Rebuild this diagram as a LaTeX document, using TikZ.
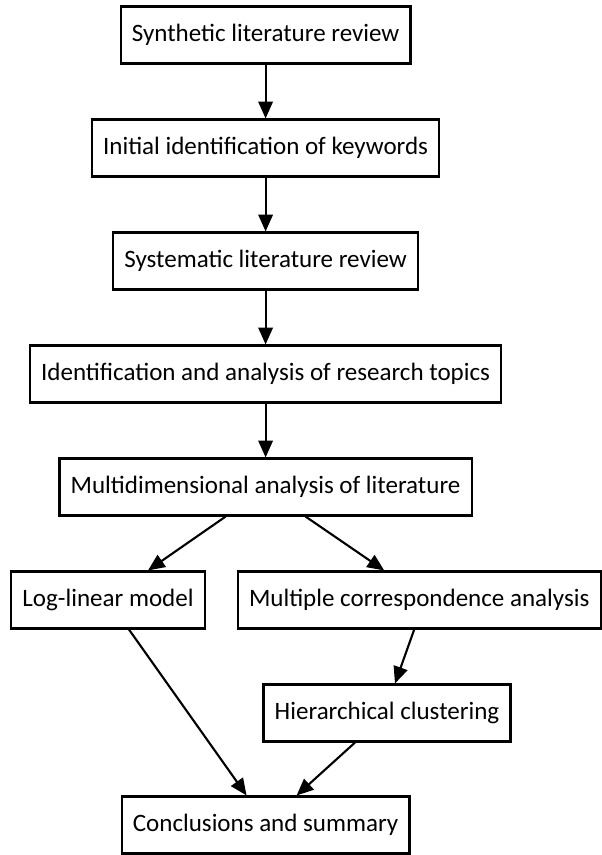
\documentclass[tikz,border=0pt]{standalone}
\usepackage{fontspec}
\setmainfont{Carlito}
\usetikzlibrary{positioning, arrows.meta}

\begin{document}
\begin{tikzpicture}[>={Triangle[length=0.42cm, width=0.36cm]}, line width=1.5pt,
          paso/.style={draw, rectangle, minimum height=1.425cm, inner xsep=0.28cm,
                       font=\fontsize{17.8pt}{21pt}\selectfont}
        ]
        \useasboundingbox (0,0) rectangle (15.05,-21.375);

        \node[paso] (sintesis) at (6.64,-0.875)  {Synthetic literature review};
        \node[paso] (claves)   at (6.64,-3.7)    {Initial identification of keywords};
        \node[paso] (sistema)  at (6.64,-6.525)  {Systematic literature review};
        \node[paso] (temas)    at (6.64,-9.35)   {Identification and analysis of research topics};
        \node[paso] (multi)    at (6.64,-12.175) {Multidimensional analysis of literature};

        \node[paso] (loglin)   at (2.7,-15.0)    {Log-linear model};
        \node[paso] (acm)      at (10.48,-15.0)  {Multiple correspondence analysis};
        \node[paso] (cluster)  at (9.675,-17.825){Hierarchical clustering};
        \node[paso] (fin)      at (6.64,-20.625) {Conclusions and summary};

        % camino principal
        \draw[->] (sintesis) -- (claves);
        \draw[->] (claves) -- (sistema);
        \draw[->] (sistema) -- (temas);
        \draw[->] (temas) -- (multi);

        % ramas
        \draw[->] ([xshift=-1cm]multi.south) -- ([xshift=1cm]loglin.north);
        \draw[->] ([xshift=1cm]multi.south) -- ([xshift=-0.875cm]acm.north);
        \draw[->] ([xshift=-0.125cm]acm.south) -- ([xshift=0.2cm]cluster.north);

        % cierre
        \draw[->] ([xshift=0.525cm]loglin.south) -- ([xshift=-0.475cm]fin.north);
        \draw[->] ([xshift=-0.8cm]cluster.south) -- ([xshift=0.775cm]fin.north);
      \end{tikzpicture}
\end{document}
